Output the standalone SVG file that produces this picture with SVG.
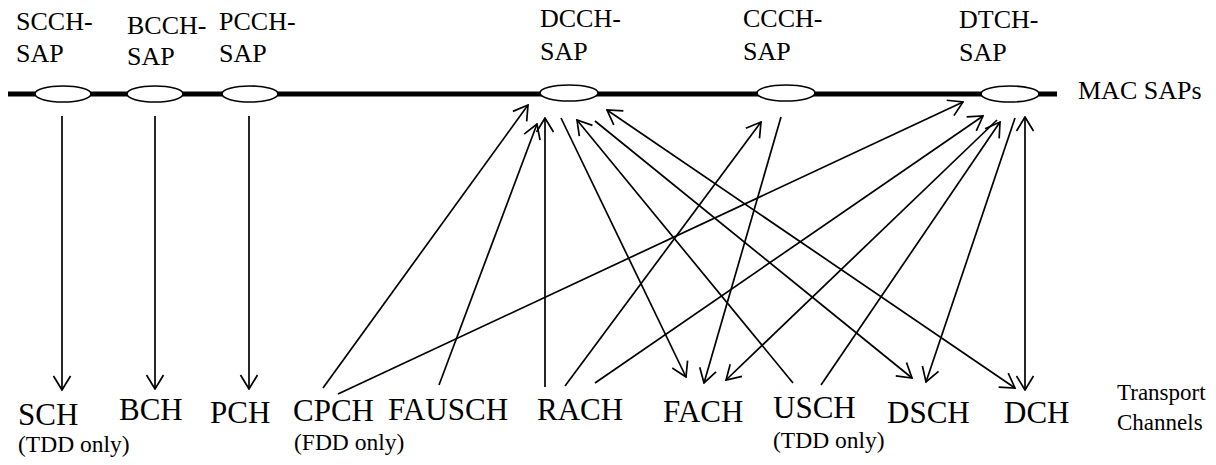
<svg xmlns="http://www.w3.org/2000/svg" width="1216" height="465" viewBox="0 0 1216 465" font-family="'Liberation Serif', 'DejaVu Serif', serif">
<defs>
<style>
text{font-family:'Liberation Serif','DejaVu Serif',serif;fill:#000}
.sap{font-size:26px}
.tc{font-size:31px}
.sub{font-size:23.5px}
.lbl{font-size:23px}
.sapEl{fill:#fff;stroke:#000;stroke-width:1.6}
.c{stroke:#000;stroke-width:1.7;fill:none;marker-end:url(#ah)}
.b{marker-start:url(#ah)}
</style>
<marker id="ah" viewBox="0 0 16 20" refX="15" refY="10" markerWidth="16" markerHeight="20" markerUnits="userSpaceOnUse" orient="auto-start-reverse">
<path d="M1,1.5 L15,10 L1,18.5" fill="none" stroke="#000" stroke-width="1.7"/>
</marker>
</defs>
<rect width="1216" height="465" fill="#fff"/>

<g id="mac-bar">
<line x1="8" y1="94" x2="1057" y2="94" stroke="#000" stroke-width="5"/>
<text class="sap" x="1078" y="99">MAC SAPs</text>
</g>

<g id="connectors">
<line class="c" x1="62" y1="116" x2="62" y2="390"/>
<line class="c" x1="155" y1="116" x2="155" y2="389"/>
<line class="c" x1="249" y1="116" x2="249" y2="389"/>
<line class="c" x1="323" y1="388" x2="528" y2="105"/>
<line class="c" x1="338" y1="394" x2="963" y2="102"/>
<line class="c" x1="439" y1="385" x2="537" y2="124"/>
<line class="c" x1="545" y1="387" x2="545" y2="118"/>
<line class="c" x1="565" y1="386" x2="761" y2="122"/>
<line class="c" x1="595" y1="383" x2="983" y2="116"/>
<line class="c" x1="561" y1="118" x2="686" y2="377"/>
<line class="c" x1="781" y1="117" x2="704" y2="383"/>
<line class="c" x1="997" y1="120" x2="726" y2="380"/>
<line class="c" x1="793" y1="383" x2="577" y2="120"/>
<line class="c" x1="821" y1="385" x2="1000" y2="122"/>
<line class="c" x1="595" y1="121" x2="912" y2="378"/>
<line class="c" x1="1015" y1="118" x2="926" y2="382"/>
<line class="c b" x1="607" y1="110" x2="1015" y2="388"/>
<line class="c b" x1="1025" y1="117" x2="1025" y2="390"/>
</g>

<g id="sap-scch"><ellipse class="sapEl" cx="63" cy="94" rx="28" ry="8"/><text class="sap" x="16" y="30">SCCH-</text><text class="sap" x="16" y="62">SAP</text></g>
<g id="sap-bcch"><ellipse class="sapEl" cx="155" cy="94" rx="28" ry="8"/><text class="sap" x="127" y="34">BCCH-</text><text class="sap" x="127" y="65">SAP</text></g>
<g id="sap-pcch"><ellipse class="sapEl" cx="250" cy="94" rx="28" ry="8"/><text class="sap" x="219" y="30">PCCH-</text><text class="sap" x="219" y="62">SAP</text></g>
<g id="sap-dcch"><ellipse class="sapEl" cx="569" cy="93" rx="29" ry="8"/><text class="sap" x="540" y="27">DCCH-</text><text class="sap" x="540" y="60">SAP</text></g>
<g id="sap-ccch"><ellipse class="sapEl" cx="786" cy="93" rx="29" ry="8"/><text class="sap" x="743" y="27">CCCH-</text><text class="sap" x="743" y="60">SAP</text></g>
<g id="sap-dtch"><ellipse class="sapEl" cx="1010" cy="94" rx="29" ry="8"/><text class="sap" x="959" y="28">DTCH-</text><text class="sap" x="959" y="61">SAP</text></g>

<g id="tc-sch"><text class="tc" x="18" y="425">SCH</text><text class="sub" x="18" y="452">(TDD only)</text></g>
<g id="tc-bch"><text class="tc" x="119" y="420">BCH</text></g>
<g id="tc-pch"><text class="tc" x="210" y="423">PCH</text></g>
<g id="tc-cpch"><text class="tc" x="293" y="421">CPCH</text><text class="sub" x="294" y="450">(FDD only)</text></g>
<g id="tc-fausch"><text class="tc" x="388" y="420">FAUSCH</text></g>
<g id="tc-rach"><text class="tc" x="537" y="420">RACH</text></g>
<g id="tc-fach"><text class="tc" x="663" y="422">FACH</text></g>
<g id="tc-usch"><text class="tc" x="773" y="418">USCH</text><text class="sub" x="773" y="448">(TDD only)</text></g>
<g id="tc-dsch"><text class="tc" x="887" y="423">DSCH</text></g>
<g id="tc-dch"><text class="tc" x="1004" y="423">DCH</text></g>
<g id="transport-label"><text class="lbl" x="1117" y="400">Transport</text><text class="lbl" x="1117" y="430">Channels</text></g>
</svg>
